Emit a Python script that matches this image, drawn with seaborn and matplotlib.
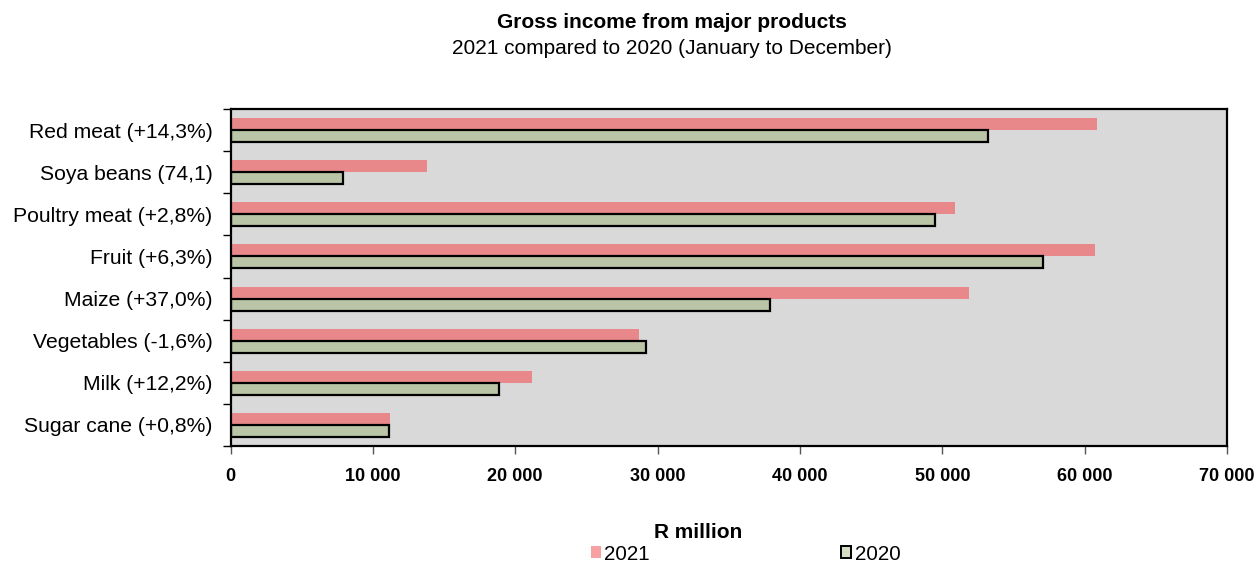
import matplotlib
matplotlib.use("Agg")
import matplotlib.pyplot as plt
from matplotlib.patches import Patch
from matplotlib.ticker import FixedLocator, FuncFormatter
import seaborn as sns
import pandas as pd

# Gross income per product, R million
products = [
    "Red meat (+14,3%)",
    "Soya beans (74,1)",
    "Poultry meat (+2,8%)",
    "Fruit (+6,3%)",
    "Maize (+37,0%)",
    "Vegetables (-1,6%)",
    "Milk (+12,2%)",
    "Sugar cane (+0,8%)",
]
income_2021 = [60900, 13800, 50900, 60700, 51900, 28700, 21200, 11200]
income_2020 = [53200, 7900, 49500, 57100, 37900, 29200, 18850, 11100]
years = ["2021", "2020"]
x_ticks = [0, 10000, 20000, 30000, 40000, 50000, 60000, 70000]

df = pd.DataFrame({
    "product": products * 2,
    "year": [years[0]] * len(products) + [years[1]] * len(products),
    "income": income_2021 + income_2020,
})

sns.set_theme(style="white")
plt.rcParams["font.family"] = ["Liberation Sans", "DejaVu Sans"]
plt.rcParams["text.color"] = "black"
plt.rcParams["xtick.labelcolor"] = "black"
plt.rcParams["ytick.labelcolor"] = "black"

bar_colors = {"2021": "#E8888A", "2020": "#BAC4A6"}

fig = plt.figure(figsize=(12.57, 5.62), dpi=100)
ax = fig.add_axes([0.1834, 0.2064, 0.9761 - 0.1834, 0.806 - 0.2064])
ax.set_facecolor("#D9D9D9")

sns.barplot(
    data=df, y="product", x="income", hue="year", hue_order=years,
    order=products, palette=bar_colors, orient="h", width=0.57,
    dodge=True, saturation=1, legend=False, ax=ax,
)

# 2021 bars without outline, 2020 bars outlined in black
for patch in ax.containers[0]:
    patch.set_edgecolor("none")
    patch.set_linewidth(0)
for patch in ax.containers[1]:
    patch.set_edgecolor("black")
    patch.set_linewidth(1.6)

ax.set_xlim(0, 70000)
ax.set_ylim(len(products) - 0.5, -0.5)
ax.xaxis.set_major_locator(FixedLocator(x_ticks))
ax.xaxis.set_major_formatter(FuncFormatter(lambda v, p: f"{int(v):,}".replace(",", " ")))
for lab in ax.get_xticklabels():
    lab.set_fontweight("bold")
ax.tick_params(axis="x", which="major", bottom=True, length=6, width=1,
               color="#555555", labelsize=13, pad=10, labelcolor="black")

# category labels centred, tick marks on the boundaries between categories
ax.tick_params(axis="y", which="major", left=False, length=0, labelsize=15.2, pad=13,
               labelcolor="black")
ax.set_yticks([i - 0.5 for i in range(len(products) + 1)], minor=True)
ax.tick_params(axis="y", which="minor", left=True, length=6, width=1, color="black")

ax.set_xlabel("")
ax.set_ylabel("")
for side in ["left", "right", "top", "bottom"]:
    ax.spines[side].set_visible(True)
    ax.spines[side].set_color("black")
    ax.spines[side].set_linewidth(1.6)
ax.grid(False)

fig.text(0.5345, 1 - 22 / 562, "Gross income from major products",
         ha="center", va="center", fontsize=15, fontweight="bold", color="black")
fig.text(0.5345, 1 - 48 / 562, "2021 compared to 2020 (January to December)",
         ha="center", va="center", fontsize=15, color="black")
fig.text(698 / 1257, 1 - 533 / 562, "R million",
         ha="center", va="center", fontsize=15, fontweight="bold", color="black")

handles = [
    Patch(facecolor="#F7A1A3", edgecolor="none", label="2021"),
    Patch(facecolor="#D6DDC6", edgecolor="black", linewidth=1.4, label="2020"),
]
fig.legend(handles=handles, loc="center left", bbox_to_anchor=(591 / 1257, 1 - 554 / 562),
           ncol=2, frameon=False, fontsize=14.8, borderpad=0, borderaxespad=0,
           handlelength=0.5, handleheight=0.5, handletextpad=0.15, columnspacing=9.3,
           labelcolor="black")

fig.savefig("out.png", dpi=100)
